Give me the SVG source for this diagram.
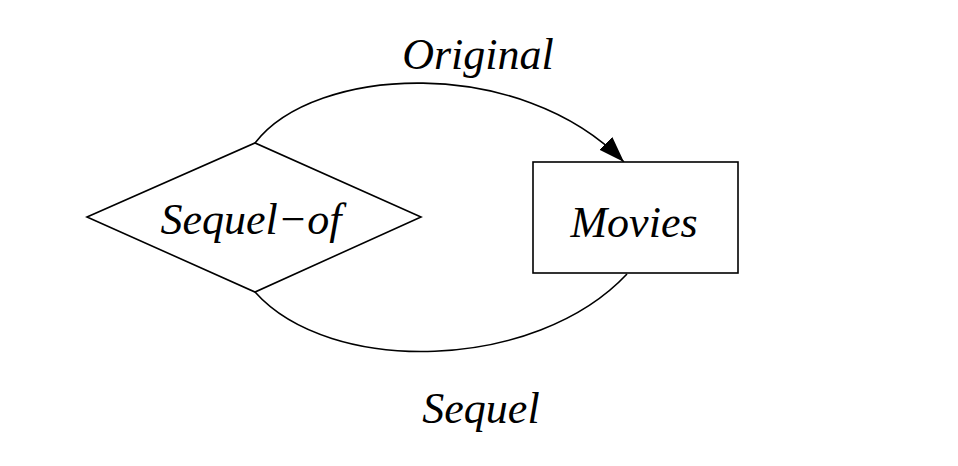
<svg xmlns="http://www.w3.org/2000/svg" width="958" height="466" viewBox="0 0 958 466">
<style>
.shape{fill:#fff;stroke:#000;stroke-width:1.6}
.edge{fill:none;stroke:#000;stroke-width:1.6}
text{font-family:"Liberation Serif","Times New Roman",serif;font-style:italic;font-size:44px;fill:#000;text-anchor:middle}
</style>
<defs>
<marker id="arrow" markerUnits="userSpaceOnUse" markerWidth="28" markerHeight="20" refX="26" refY="9" orient="auto">
<path d="M0,0 L26,9 L0,18 Z" fill="#000"/>
</marker>
</defs>
<rect width="958" height="466" fill="#fff"/>
<g id="connectors">
<path class="edge" d="M255,143 C315,65 520,55 624,162" marker-end="url(#arrow)"/>
<path class="edge" d="M255,292 C330,376 535,372 627,274"/>
<text x="478" y="69">Original</text>
<text x="481" y="423">Sequel</text>
</g>
<g id="sequel-of">
<polygon class="shape" points="87,217 255,143 421,217 255,292"/>
<text x="251" y="234">Sequel−of</text>
</g>
<g id="movies">
<rect class="shape" x="533" y="162" width="205" height="111"/>
<text x="634" y="237">Movies</text>
</g>
</svg>
